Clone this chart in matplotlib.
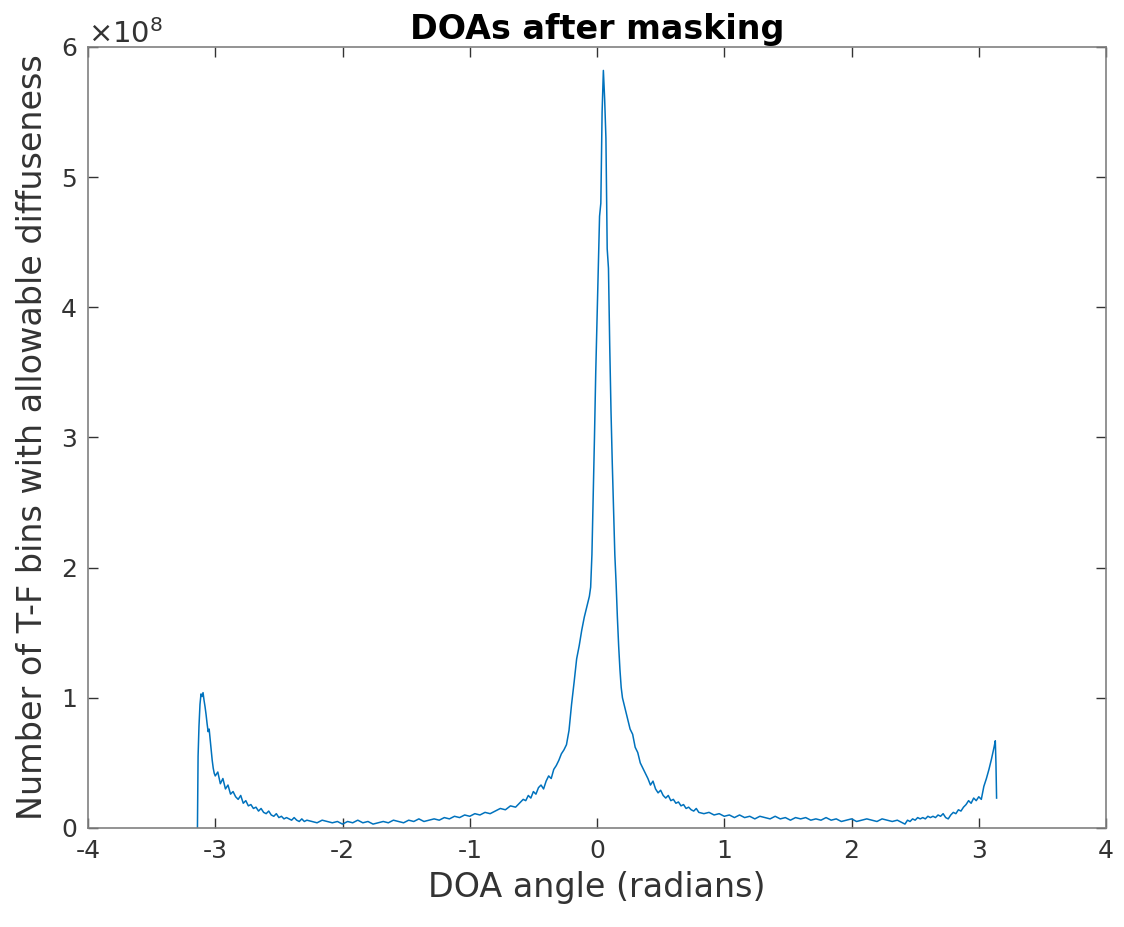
import numpy as np
from matplotlib import pyplot as plt
from matplotlib.ticker import ScalarFormatter

# histogram of DOA angles (radians) vs counts (in units of 1e8)
edge_l_x = [-3.140, -3.135, -3.128, -3.120, -3.112, -3.104, -3.096, -3.088, -3.080,
            -3.072, -3.064, -3.056, -3.048, -3.040, -3.032, -3.024, -3.016, -3.008]
edge_l_y = [0.00, 0.55, 0.78, 0.95, 1.03, 1.01, 1.04, 0.98, 0.93,
            0.87, 0.80, 0.74, 0.76, 0.68, 0.60, 0.52, 0.46, 0.42]

tail_l_x = [-3.00, -2.98, -2.96, -2.94, -2.92, -2.90, -2.88, -2.86, -2.84, -2.82, -2.80, -2.78,
            -2.76, -2.74, -2.72, -2.70, -2.68, -2.66, -2.64, -2.62, -2.60, -2.58, -2.56, -2.54,
            -2.52, -2.50, -2.48, -2.46, -2.44, -2.42, -2.40, -2.38, -2.36, -2.34, -2.32, -2.30]
tail_l_y = [0.40, 0.43, 0.34, 0.38, 0.30, 0.33, 0.26, 0.28, 0.24, 0.22, 0.25, 0.19,
            0.21, 0.17, 0.18, 0.15, 0.16, 0.13, 0.15, 0.12, 0.11, 0.13, 0.10, 0.09,
            0.11, 0.08, 0.09, 0.07, 0.08, 0.07, 0.06, 0.08, 0.06, 0.05, 0.07, 0.05]

flat_l_x = [-2.28, -2.24, -2.20, -2.16, -2.12, -2.08, -2.04, -2.00, -1.96, -1.92, -1.88, -1.84,
            -1.80, -1.76, -1.72, -1.68, -1.64, -1.60, -1.56, -1.52, -1.48, -1.44, -1.40, -1.36,
            -1.32, -1.28, -1.24, -1.20]
flat_l_y = [0.06, 0.05, 0.04, 0.06, 0.05, 0.04, 0.05, 0.03, 0.05, 0.04, 0.06, 0.04,
            0.05, 0.03, 0.04, 0.05, 0.04, 0.06, 0.05, 0.04, 0.06, 0.05, 0.07, 0.05,
            0.06, 0.07, 0.06, 0.08]

rise_x = [-1.16, -1.12, -1.08, -1.04, -1.00, -0.96, -0.92, -0.88, -0.84, -0.80, -0.76, -0.72,
          -0.68, -0.64, -0.60, -0.58, -0.56, -0.54, -0.52, -0.50, -0.48, -0.46, -0.44, -0.42,
          -0.40, -0.38, -0.36, -0.34, -0.32, -0.30, -0.28, -0.26, -0.24, -0.22]
rise_y = [0.07, 0.09, 0.08, 0.10, 0.09, 0.11, 0.10, 0.12, 0.11, 0.13, 0.15, 0.14,
          0.17, 0.16, 0.20, 0.22, 0.21, 0.25, 0.23, 0.28, 0.26, 0.31, 0.33, 0.30,
          0.36, 0.40, 0.38, 0.45, 0.48, 0.52, 0.57, 0.60, 0.64, 0.75]

peak_x = [-0.20, -0.18, -0.16, -0.14, -0.12, -0.10, -0.08, -0.06, -0.05, -0.04, -0.03, -0.02,
          -0.01, 0.00, 0.01, 0.02, 0.03, 0.04, 0.05, 0.06, 0.07, 0.08, 0.09, 0.10,
          0.11, 0.12, 0.13, 0.14, 0.15, 0.16, 0.17, 0.18, 0.19, 0.20, 0.21, 0.22]
peak_y = [0.95, 1.12, 1.30, 1.40, 1.52, 1.62, 1.70, 1.78, 1.85, 2.10, 2.55, 3.00,
          3.50, 3.90, 4.30, 4.70, 4.80, 5.50, 5.82, 5.60, 5.30, 4.45, 4.30, 3.70,
          3.20, 2.80, 2.45, 2.10, 1.88, 1.62, 1.40, 1.22, 1.08, 1.00, 0.96, 0.92]

fall_x = [0.24, 0.26, 0.28, 0.30, 0.32, 0.34, 0.36, 0.38, 0.40, 0.42, 0.44, 0.46,
          0.48, 0.50, 0.52, 0.54, 0.56, 0.58, 0.60, 0.62, 0.64, 0.66, 0.68, 0.70,
          0.72, 0.74, 0.76, 0.78, 0.80]
fall_y = [0.84, 0.76, 0.72, 0.62, 0.58, 0.50, 0.46, 0.42, 0.38, 0.33, 0.36, 0.30,
          0.27, 0.29, 0.25, 0.23, 0.25, 0.21, 0.22, 0.19, 0.20, 0.17, 0.18, 0.15,
          0.16, 0.14, 0.13, 0.15, 0.12]

flat_r_x = [0.84, 0.88, 0.92, 0.96, 1.00, 1.04, 1.08, 1.12, 1.16, 1.20, 1.24, 1.28,
            1.32, 1.36, 1.40, 1.44, 1.48, 1.52, 1.56, 1.60, 1.64, 1.68, 1.72, 1.76,
            1.80, 1.84, 1.88, 1.92, 1.96, 2.00, 2.04, 2.08, 2.12, 2.16, 2.20, 2.24,
            2.28, 2.32, 2.36, 2.40]
flat_r_y = [0.11, 0.12, 0.10, 0.11, 0.09, 0.10, 0.08, 0.10, 0.08, 0.09, 0.07, 0.09,
            0.08, 0.07, 0.09, 0.07, 0.08, 0.06, 0.08, 0.07, 0.08, 0.06, 0.07, 0.06,
            0.08, 0.06, 0.07, 0.05, 0.06, 0.07, 0.05, 0.06, 0.07, 0.06, 0.05, 0.07,
            0.06, 0.05, 0.06, 0.04]

tail_r_x = [2.42, 2.44, 2.46, 2.48, 2.50, 2.52, 2.54, 2.56, 2.58, 2.60, 2.62, 2.64,
            2.66, 2.68, 2.70, 2.72, 2.74, 2.76, 2.78, 2.80, 2.82, 2.84, 2.86, 2.88,
            2.90, 2.92, 2.94, 2.96, 2.98, 3.00, 3.02, 3.04, 3.06, 3.08, 3.10, 3.12,
            3.13, 3.135, 3.14]
tail_r_y = [0.03, 0.06, 0.05, 0.07, 0.06, 0.08, 0.07, 0.08, 0.07, 0.09, 0.08, 0.09,
            0.08, 0.10, 0.09, 0.11, 0.08, 0.07, 0.10, 0.12, 0.11, 0.14, 0.13, 0.16,
            0.18, 0.21, 0.19, 0.23, 0.21, 0.24, 0.22, 0.32, 0.38, 0.45, 0.53, 0.62,
            0.67, 0.50, 0.23]

doa = np.concatenate([edge_l_x, tail_l_x, flat_l_x, rise_x, peak_x, fall_x, flat_r_x, tail_r_x])
counts = np.concatenate([edge_l_y, tail_l_y, flat_l_y, rise_y, peak_y, fall_y, flat_r_y, tail_r_y]) * 1e8

x_ticks = [-4, -3, -2, -1, 0, 1, 2, 3, 4]
y_ticks = [0, 1e8, 2e8, 3e8, 4e8, 5e8, 6e8]

plt.rcParams['font.family'] = 'DejaVu Sans'
plt.rcParams['axes.unicode_minus'] = False
txt = '#333333'

fig = plt.figure(figsize=(11.24, 9.27), dpi=100)
ax = fig.add_axes([0.0783, 0.1068, 0.9057, 0.8425])
ax.plot(doa, counts, color='#0072BD', lw=1.1)

ax.set_xlim(-4, 4)
ax.set_ylim(0, 6e8)
ax.set_xticks(x_ticks)
ax.set_yticks(y_ticks)
fmt = ScalarFormatter(useMathText=True)
fmt.set_powerlimits((0, 0))
ax.yaxis.set_major_formatter(fmt)
ax.yaxis.get_offset_text().set_fontsize(21)
ax.yaxis.get_offset_text().set_color('#555555')

ax.tick_params(direction='in', top=True, right=True, length=7, width=1,
               labelsize=18, colors='#333333', labelcolor=txt, pad=8)
for s in ax.spines.values():
    s.set_color('#808080')
    s.set_linewidth(1.2)

ax.set_xlabel('DOA angle (radians)', fontsize=24, color=txt, labelpad=6)
ax.set_ylabel('Number of T-F bins with allowable diffuseness', fontsize=24, color=txt, labelpad=8)
ax.set_title('DOAs after masking', fontsize=24, fontweight='bold', color='black', pad=6)

fig.savefig('out.png', dpi=100)
